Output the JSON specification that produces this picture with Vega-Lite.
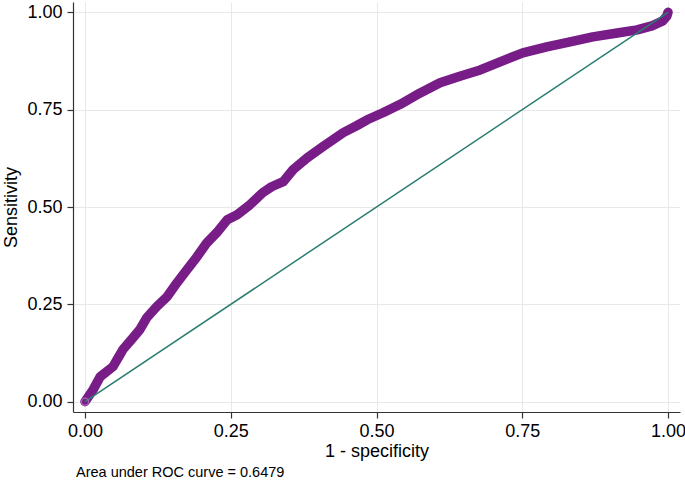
{
  "$schema": "https://vega.github.io/schema/vega-lite/v6.json",
  "autosize": "none",
  "width": 607,
  "height": 410,
  "padding": {"left": 73, "top": 2, "right": 5, "bottom": 69},
  "background": "white",
  "config": {
    "view": {"stroke": null},
    "font": "Liberation Sans",
    "axis": {
      "labelFont": "Liberation Sans",
      "titleFont": "Liberation Sans",
      "labelFontSize": 18,
      "titleFontSize": 18,
      "titleFontWeight": "normal",
      "labelColor": "#000000",
      "titleColor": "#000000",
      "domainColor": "#333333",
      "domainWidth": 1.2,
      "tickColor": "#333333",
      "tickWidth": 1.2,
      "tickSize": 6,
      "gridColor": "#e8e8e8",
      "gridWidth": 1
    }
  },
  "title": {
    "text": "Area under ROC curve = 0.6479",
    "orient": "bottom",
    "anchor": "start",
    "frame": "group",
    "font": "Liberation Sans",
    "fontSize": 14.5,
    "fontWeight": "normal",
    "color": "#000000",
    "offset": 6,
    "dx": 3
  },
  "datasets": {
    "roc": [
      {"fpr": 0.0, "tpr": 0.0},
      {"fpr": 0.014, "tpr": 0.031},
      {"fpr": 0.026, "tpr": 0.064},
      {"fpr": 0.048, "tpr": 0.090},
      {"fpr": 0.065, "tpr": 0.134},
      {"fpr": 0.080, "tpr": 0.160},
      {"fpr": 0.094, "tpr": 0.185},
      {"fpr": 0.106, "tpr": 0.216},
      {"fpr": 0.123, "tpr": 0.244},
      {"fpr": 0.141, "tpr": 0.270},
      {"fpr": 0.158, "tpr": 0.306},
      {"fpr": 0.175, "tpr": 0.339},
      {"fpr": 0.192, "tpr": 0.372},
      {"fpr": 0.209, "tpr": 0.408},
      {"fpr": 0.226, "tpr": 0.434},
      {"fpr": 0.244, "tpr": 0.467},
      {"fpr": 0.261, "tpr": 0.480},
      {"fpr": 0.283, "tpr": 0.506},
      {"fpr": 0.305, "tpr": 0.537},
      {"fpr": 0.320, "tpr": 0.552},
      {"fpr": 0.340, "tpr": 0.565},
      {"fpr": 0.357, "tpr": 0.596},
      {"fpr": 0.381, "tpr": 0.626},
      {"fpr": 0.408, "tpr": 0.655},
      {"fpr": 0.443, "tpr": 0.691},
      {"fpr": 0.465, "tpr": 0.708},
      {"fpr": 0.484, "tpr": 0.724},
      {"fpr": 0.511, "tpr": 0.742},
      {"fpr": 0.540, "tpr": 0.763},
      {"fpr": 0.575, "tpr": 0.793},
      {"fpr": 0.609, "tpr": 0.819},
      {"fpr": 0.643, "tpr": 0.836},
      {"fpr": 0.678, "tpr": 0.852},
      {"fpr": 0.712, "tpr": 0.873},
      {"fpr": 0.751, "tpr": 0.896},
      {"fpr": 0.792, "tpr": 0.911},
      {"fpr": 0.832, "tpr": 0.924},
      {"fpr": 0.871, "tpr": 0.937},
      {"fpr": 0.913, "tpr": 0.947},
      {"fpr": 0.947, "tpr": 0.955},
      {"fpr": 0.974, "tpr": 0.966},
      {"fpr": 0.991, "tpr": 0.978},
      {"fpr": 0.998, "tpr": 0.990},
      {"fpr": 1.0, "tpr": 1.0}
    ],
    "ref": [
      {"fpr": 0.0, "tpr": 0.0},
      {"fpr": 1.0, "tpr": 1.0}
    ],
    "origin": [
      {"fpr": 0.0, "tpr": 0.0}
    ]
  },
  "encoding": {
    "x": {
      "field": "fpr",
      "type": "quantitative",
      "scale": {"domain": [-0.0206, 1.0206], "nice": false, "zero": false},
      "axis": {
        "title": "1 - specificity",
        "values": [0, 0.25, 0.5, 0.75, 1],
        "format": ".2f",
        "labelPadding": 4,
        "titlePadding": 2
      }
    },
    "y": {
      "field": "tpr",
      "type": "quantitative",
      "scale": {"domain": [-0.0265, 1.0265], "nice": false, "zero": false},
      "axis": {
        "title": "Sensitivity",
        "values": [0, 0.25, 0.5, 0.75, 1],
        "format": ".2f",
        "labelPadding": 5,
        "titlePadding": 6
      }
    }
  },
  "layer": [
    {
      "data": {"name": "roc"},
      "mark": {"type": "line", "color": "#781d87", "strokeWidth": 9.5, "strokeCap": "round", "strokeJoin": "round"}
    },
    {
      "data": {"name": "ref"},
      "mark": {"type": "line", "color": "#2a7d70", "strokeWidth": 1.5}
    },
    {
      "data": {"name": "origin"},
      "mark": {"type": "point", "filled": false, "color": "#c27ccb", "size": 50, "strokeWidth": 1.3}
    }
  ]
}
